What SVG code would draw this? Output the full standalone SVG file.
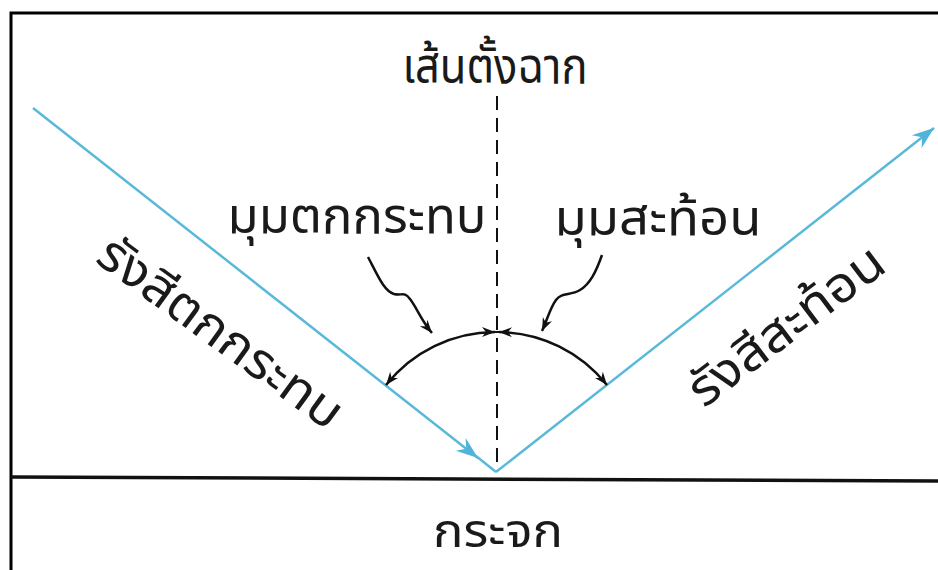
<svg xmlns="http://www.w3.org/2000/svg" width="938" height="570" viewBox="0 0 938 570">
  <defs>
    <style>
      .lbl { font-family: "Noto Sans Thai", "Noto Sans", "DejaVu Sans", sans-serif; font-size: 50px; fill: #1a1a1a; text-anchor: middle; }
      .ray { stroke: #5ab8d8; stroke-width: 2.5; fill: none; }
      .blk { stroke: #111; stroke-width: 2.5; fill: none; }
    </style>
    <marker id="blueHead" viewBox="-24 -9 26 18" markerWidth="26" markerHeight="18" refX="0" refY="0" orient="auto" markerUnits="userSpaceOnUse">
      <path d="M0,0 L-22,-8 L-15,0 L-22,8 Z" fill="#4fb3dc"/>
    </marker>
    <marker id="blackHead" viewBox="-14 -6 16 12" markerWidth="16" markerHeight="12" refX="0" refY="0" orient="auto-start-reverse" markerUnits="userSpaceOnUse">
      <path d="M0,0 L-13,-5 L-9,0 L-13,5 Z" fill="#111"/>
    </marker>
  </defs>
  <rect x="0" y="0" width="938" height="570" fill="#ffffff"/>
  <polyline points="11,570 11,13 938,13" fill="none" stroke="#000" stroke-width="3"/>

  <g id="connectors">
    <line id="mirror-line" x1="11" y1="477" x2="938" y2="481" stroke="#111" stroke-width="3.5"/>
    <line id="normal" x1="497" y1="96" x2="497" y2="472" stroke="#111" stroke-width="2" stroke-dasharray="14 8"/>
    <line class="ray" x1="33" y1="108" x2="478" y2="458" marker-end="url(#blueHead)"/>
    <line class="ray" x1="476" y1="456" x2="496" y2="472"/>
    <line class="ray" x1="496" y1="472" x2="934" y2="128" marker-end="url(#blueHead)"/>
    <path class="blk" d="M386,385 A140,140 0 0 1 495,332" marker-start="url(#blackHead)" marker-end="url(#blackHead)"/>
    <path class="blk" d="M499,332 A140,140 0 0 1 607,385" marker-start="url(#blackHead)" marker-end="url(#blackHead)"/>
    <line x1="491" y1="332" x2="503" y2="332" stroke="#111" stroke-width="2"/>
    <path class="blk" d="M368,257 C378,276 384,291 394,294 C402,296 404,291 410,299 C417,308 421,320 432,333" marker-end="url(#blackHead)"/>
    <path class="blk" d="M602,255 C596,272 590,284 580,290 C570,296 562,292 556,300 C550,308 548,318 542,331" marker-end="url(#blackHead)"/>
  </g>

  <g id="normal-label">
    <text class="lbl" x="495" y="83" textLength="185" lengthAdjust="spacingAndGlyphs">เส้นตั้งฉาก</text>
  </g>
  <g id="incidence-angle-label">
    <text class="lbl" x="357" y="233" textLength="259" lengthAdjust="spacingAndGlyphs">มุมตกกระทบ</text>
  </g>
  <g id="reflection-angle-label">
    <text class="lbl" x="658" y="235" textLength="207" lengthAdjust="spacingAndGlyphs">มุมสะท้อน</text>
  </g>
  <g id="incident-ray-label">
    <text class="lbl" transform="translate(219,335) rotate(36)" x="0" y="14" textLength="290" lengthAdjust="spacingAndGlyphs">รังสีตกกระทบ</text>
  </g>
  <g id="reflected-ray-label">
    <text class="lbl" transform="translate(788,328) rotate(-37)" x="0" y="14" textLength="232" lengthAdjust="spacingAndGlyphs">รังสีสะท้อน</text>
  </g>
  <g id="mirror-label">
    <text class="lbl" x="498" y="547" style="font-size:46px" textLength="130" lengthAdjust="spacingAndGlyphs">กระจก</text>
  </g>
</svg>
